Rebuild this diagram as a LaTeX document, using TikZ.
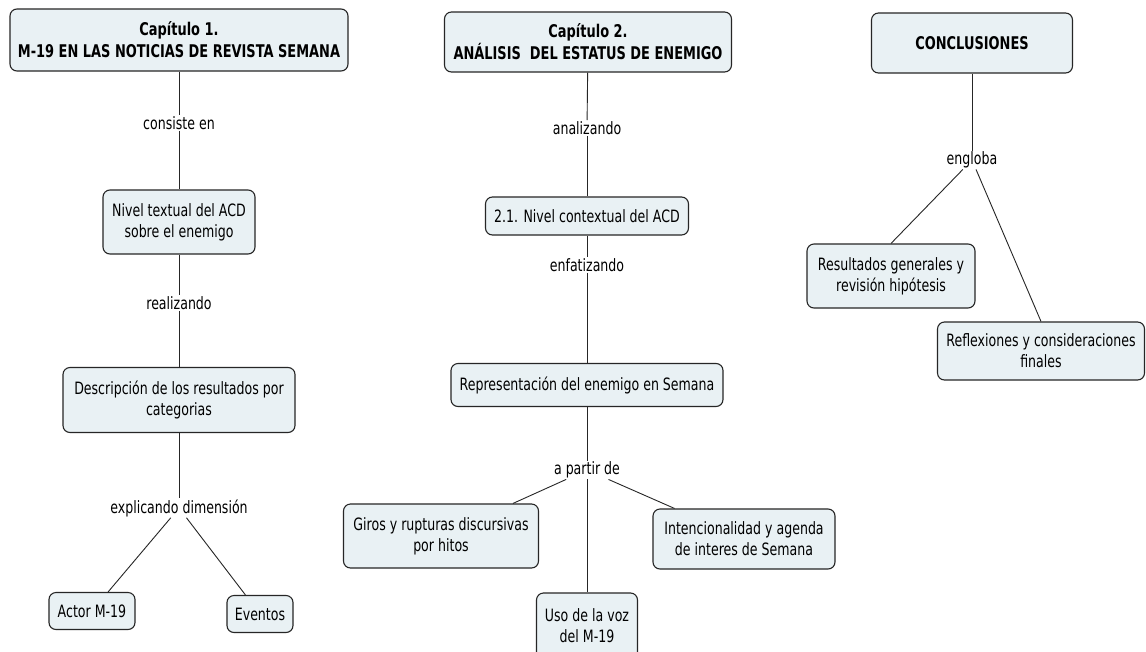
\documentclass[tikz,border=0pt]{standalone}
\usepackage{fontspec}
\setmainfont[FakeStretch=0.74]{DejaVu Sans}
\usepackage{tikz}
\usetikzlibrary{arrows.meta}
\definecolor{cmapfill}{RGB}{233,241,244}

\begin{document}
\begin{tikzpicture}[x=1pt,y=-1pt,
 concept/.style={rectangle,draw=black!85,fill=cmapfill,line width=1.1pt,
   rounded corners=7pt,align=center,inner sep=2pt,
   font=\fontsize{17}{21}\selectfont},
 chapter/.style={concept,font=\fontsize{17.5}{22}\selectfont\bfseries},
 link/.style={inner sep=1pt,font=\fontsize{17}{21}\selectfont},
 ln/.style={draw,line width=0.9pt,black!85}]
\clip (0,0) rectangle (1146,651);
\fill [white] (0,0) rectangle (1146,651);
% column 1
\node [chapter,minimum width=338pt,minimum height=62pt] (cap1) at (179,40) {Capítulo 1.\\M-19 EN LAS NOTICIAS DE REVISTA SEMANA};
\node [link] (consiste) at (179,123) {consiste en};
\node [concept,minimum width=152pt,minimum height=64pt] (textual) at (179,222) {Nivel textual del ACD\\sobre el enemigo};
\node [link] (realiz) at (179,303) {realizando};
\node [concept,minimum width=232pt,minimum height=65pt] (descr) at (179,400) {Descripción de los resultados por\\categorias};
\node [link] (explic) at (179,508) {explicando dimensión};
\node [concept,minimum width=86pt,minimum height=37pt] (actor) at (92,611) {Actor M-19};
\node [concept,minimum width=66pt,minimum height=37pt] (eventos) at (260,614) {Eventos};
% column 2
\node [chapter,minimum width=287pt,minimum height=60pt] (cap2) at (588,42) {Capítulo 2.\\ANÁLISIS\ \ DEL ESTATUS DE ENEMIGO};
\node [link] (analiz) at (587,128) {analizando};
\node [concept,minimum width=203pt,minimum height=38pt] (context) at (587,216) {2.1. Nivel contextual del ACD};
\node [link] (enfat) at (587,265) {enfatizando};
\node [concept,minimum width=272pt,minimum height=43pt] (repres) at (587,385) {Representación del enemigo en Semana};
\node [link] (apartir) at (587,470) {a partir de};
\node [concept,minimum width=195pt,minimum height=64pt] (giros) at (441,536) {Giros y rupturas discursivas\\por hitos};
\node [concept,minimum width=182pt,minimum height=60pt] (intenc) at (744,539) {Intencionalidad y agenda\\de interes de Semana};
\node [concept,minimum width=101pt,minimum height=66pt] (voz) at (587,626) {Uso de la voz\\del M-19};
% column 3
\node [chapter,minimum width=201pt,minimum height=60pt] (concl) at (972,43) {CONCLUSIONES};
\node [link] (englo) at (972,160) {engloba};
\node [concept,minimum width=168pt,minimum height=64pt] (result) at (891,276) {Resultados generales y\\revisión hipótesis};
\node [concept,minimum width=207pt,minimum height=58pt] (reflex) at (1041,351) {Reflexiones y consideraciones\\finales};
% connectors
\path [ln] (cap1)--(consiste); \path [ln] (consiste)--(textual);
\path [ln] (textual)--(realiz); \path [ln] (realiz)--(descr);
\path [ln] (descr)--(explic);
\path [ln] (explic)--(actor); \path [ln] (explic)--(eventos);
\path [ln] (cap2)--(analiz); \path [ln] (analiz)--(context);
\path [ln] (context)--(enfat); \path [ln] (enfat)--(repres);
\path [ln] (repres)--(apartir);
\path [ln] (apartir)--(giros); \path [ln] (apartir)--(intenc); \path [ln] (apartir)--(voz);
\path [ln] (concl)--(englo);
\path [ln] (englo)--(result.north); \path [ln] (englo)--(reflex.north);
\end{tikzpicture}
\end{document}
